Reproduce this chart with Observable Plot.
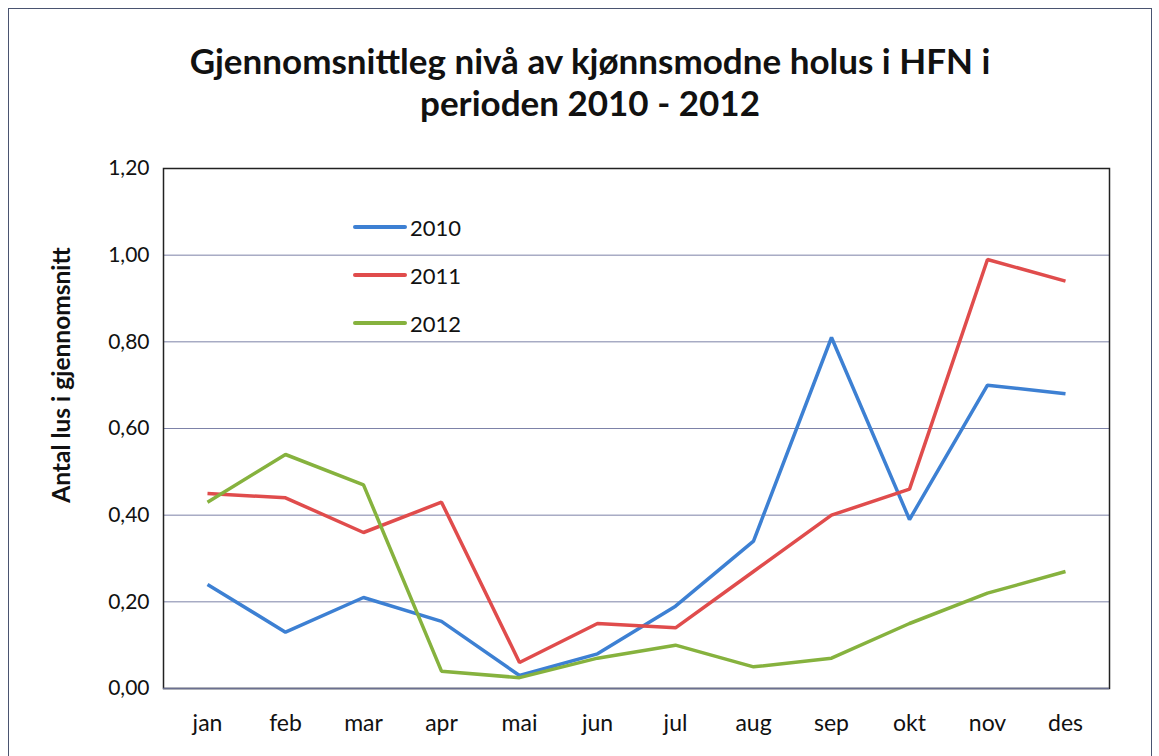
<!DOCTYPE html>
<html>
<head>
<meta charset="utf-8">
<script src="https://cdn.jsdelivr.net/npm/d3@7"></script>
<script src="https://cdn.jsdelivr.net/npm/@observablehq/plot@0.6"></script>
<style>
  html, body { margin: 0; padding: 0; background: #fff; }
  body { width: 1159px; height: 756px; position: relative; overflow: hidden; font-family: Lato, "Open Sans", sans-serif; }
  #border { position: absolute; left: 8px; top: 8px; width: 1142px; height: 800px; border: 1.5px solid #4a5470; }
  #title { position: absolute; left: 0; top: 39px; width: 1180px; text-align: center; font-weight: bold; font-size: 35px; line-height: 42px; color: #111; }
  #chart { position: absolute; left: 0; top: 150px; }
  #legend { position: absolute; left: 353px; top: 203px; font-size: 22px; color: #111; }
  #legend .row { display: flex; align-items: center; height: 48px; }
  #legend .sw { width: 54px; height: 4px; border-radius: 2px; margin-right: 3px; }
  #ytitle { position: absolute; left: 60px; top: 375px; transform: translate(-50%, -50%) rotate(-90deg); font-weight: bold; font-size: 24.5px; white-space: nowrap; color: #111; }
</style>
</head>
<body>
<div id="border"></div>
<div id="title">Gjennomsnittleg nivå av kjønnsmodne holus i HFN i<br>perioden 2010 - 2012</div>
<div id="chart"></div>
<div id="ytitle">Antal lus i gjennomsnitt</div>
<div id="legend"></div>
<script>
const months = ["jan","feb","mar","apr","mai","jun","jul","aug","sep","okt","nov","des"];
const series = ["2010","2011","2012"];
const v2010 = [0.24, 0.13, 0.21, 0.155, 0.03, 0.08, 0.19, 0.34, 0.81, 0.39, 0.70, 0.68];
const v2011 = [0.45, 0.44, 0.36, 0.43, 0.06, 0.15, 0.14, 0.27, 0.40, 0.46, 0.99, 0.94];
const v2012 = [0.43, 0.54, 0.47, 0.04, 0.025, 0.07, 0.10, 0.05, 0.07, 0.15, 0.22, 0.27];
const yTicks = [0, 0.2, 0.4, 0.6, 0.8, 1.0, 1.2];
const colors = ["#3d80d3", "#e04c4c", "#86b23e"];

const values = [v2010, v2011, v2012];
const data = series.flatMap((s, i) => months.map((m, j) => ({series: s, month: m, value: values[i][j]})));
const fmt = d => d3.format(".2f")(d).replace(".", ",");

const chart = Plot.plot({
  width: 1159,
  height: 600,
  marginLeft: 163,
  marginRight: 50,
  marginTop: 18,
  marginBottom: 62,
  style: {fontFamily: "Lato, 'Open Sans', sans-serif", color: "#111", background: "transparent"},
  x: {type: "point", domain: months, padding: 0.5, label: null},
  y: {domain: [0, 1.2], label: null},
  color: {domain: series, range: colors},
  marks: [
    Plot.gridY(yTicks, {stroke: "#7d82a8", strokeOpacity: 1, strokeWidth: 1}),
    Plot.frame({stroke: "#222", strokeWidth: 1.5}),
    Plot.ruleY([0], {stroke: "#6a6f90", strokeWidth: 1.5}),
    Plot.axisX({tickSize: 0, tickPadding: 26, fontSize: 23, label: null}),
    Plot.axisY(yTicks, {tickSize: 0, tickPadding: 14, fontSize: 21, tickFormat: fmt, label: null}),
    Plot.line(data, {x: "month", y: "value", z: "series", stroke: "series", strokeWidth: 3.5, strokeLinejoin: "miter", strokeLinecap: "butt"})
  ]
});
document.getElementById("chart").appendChild(chart);

const legend = document.getElementById("legend");
series.forEach((s, i) => {
  const row = document.createElement("div");
  row.className = "row";
  row.innerHTML = `<div class="sw" style="background:${colors[i]}"></div><span>${s}</span>`;
  legend.appendChild(row);
});
</script>
</body>
</html>
